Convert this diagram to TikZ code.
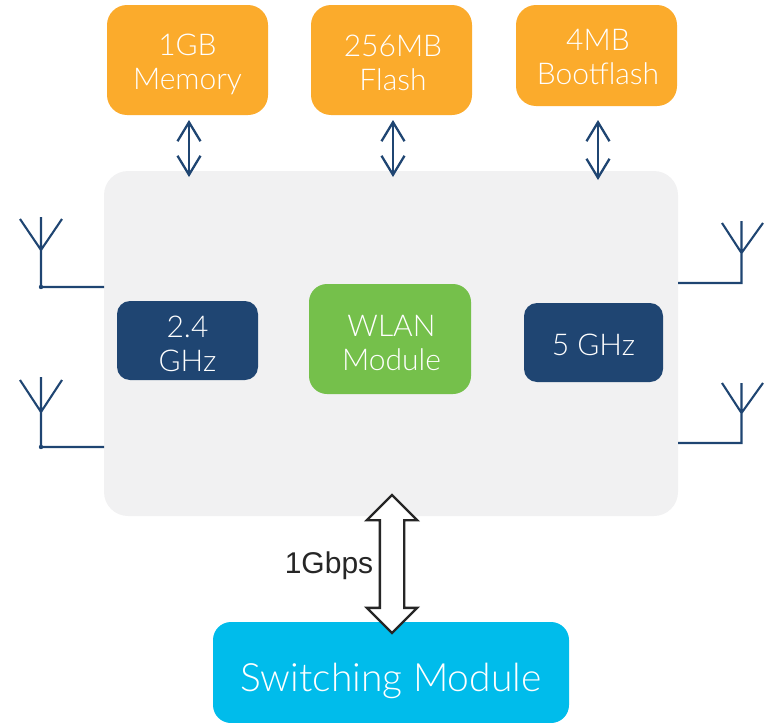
\documentclass[tikz,border=0pt]{standalone}
\usepackage{fontspec}
\setmainfont{Liberation Sans}
\newfontfamily\thinf{Lato Light}
\usetikzlibrary{arrows.meta,shapes.arrows}
\definecolor{orangebox}{HTML}{FBAB2C}
\definecolor{navybox}{HTML}{1F4572}
\definecolor{greenbox}{HTML}{75C04B}
\definecolor{cyanbox}{HTML}{00BCEB}
\definecolor{panel}{HTML}{F1F1F2}
\definecolor{inkdark}{HTML}{262626}
\newcommand\lowtext[3][0pt]{\hspace*{#1}\raisebox{-#2}[0pt][0pt]{\begin{tabular}{@{}c@{}}#3\end{tabular}}}
\tikzset{
  box/.style={rounded corners=#1, inner sep=0pt, align=center, text=white, font=\thinf\fontsize{30}{34}\selectfont, anchor=center},
  box/.default=18pt,
  membox/.style={box=20pt, fill=orangebox},
  radiobox/.style={box=13pt, fill=navybox},
  link/.style={navybox, line width=2.3pt, {Straight Barb[length=19pt,width=23pt]}-{Straight Barb[length=19pt,width=23pt]}},
  antenna/.style={navybox, line width=2.1pt},
  bigarrow/.style={double arrow, double arrow head extend=13pt, minimum width=48pt, minimum height=138pt, inner xsep=0pt, inner ysep=11pt, rotate=90, draw=inkdark, fill=white, line width=2.4pt}
}
\begin{document}
\begin{tikzpicture}[x=1pt,y=-1pt]
\useasboundingbox (0,0) rectangle (769,723);
\node[fill=panel, rounded corners=24pt, minimum width=574pt, minimum height=345pt, inner sep=0pt] (main) at (391,343.5) {};
\node[membox, minimum width=161pt, minimum height=110pt] (mem) at (187.5,60) {\lowtext{12pt}{1GB\\Memory}};
\node[membox, minimum width=161pt, minimum height=110pt] (flash) at (391.5,60) {\lowtext[3pt]{13pt}{256MB\\Flash}};
\node[membox, minimum width=161pt, minimum height=101pt] (boot) at (596.5,55.5) {\lowtext[3pt]{11pt}{4MB\\Bootflash}};
\node[radiobox, minimum width=141pt, minimum height=79pt] (r24) at (187.5,340.5) {\lowtext{13pt}{2.4\\GHz}};
\node[box=18pt, fill=greenbox, minimum width=162pt, minimum height=110pt] (wlan) at (390,339) {\lowtext[3pt]{14pt}{WLAN\\Module}};
\node[radiobox, minimum width=139pt, minimum height=79pt] (r5) at (593.5,342.5) {\lowtext{12pt}{5 GHz}};
\node[box=18pt, fill=cyanbox, minimum width=356pt, minimum height=101pt, font=\thinf\fontsize{39}{44}\selectfont] (sw) at (391,672.5) {\lowtext{16pt}{Switching Module}};
% memory links
\coordinate (m1a) at (189,120); \coordinate (m1b) at (189,177);
\coordinate (m2a) at (393,120); \coordinate (m2b) at (393,177);
\coordinate (m3a) at (598,120); \coordinate (m3b) at (598,180);
\draw[link] (m1a) -- (m1b);
\draw[link] (m2a) -- (m2b);
\draw[link] (m3a) -- (m3b);
% big arrow
\node[bigarrow] (gig) at (392,564) {};
\node[font=\fontsize{30}{33}\selectfont, text=inkdark, inner sep=0pt] (gbps) at (329,566) {1Gbps};
% antennas left
\coordinate (la1) at (41,287); \coordinate (la1t) at (41,217); \coordinate (la1j) at (41,250);
\coordinate (la1l) at (20,219); \coordinate (la1r) at (62,219); \coordinate (la1e) at (104,287);
\draw[antenna] (la1e) -- (la1) -- (la1t) (la1l) -- (la1j) -- (la1r);
\fill[navybox] (la1) circle (2.2pt);
\coordinate (la2) at (41,447); \coordinate (la2t) at (41,377); \coordinate (la2j) at (41,412);
\coordinate (la2l) at (20,380); \coordinate (la2r) at (62,380); \coordinate (la2e) at (104,447);
\draw[antenna] (la2e) -- (la2) -- (la2t) (la2l) -- (la2j) -- (la2r);
\fill[navybox] (la2) circle (2.2pt);
% antennas right
\coordinate (ra1) at (741.5,283); \coordinate (ra1t) at (741.5,221); \coordinate (ra1j) at (741.5,253);
\coordinate (ra1l) at (722,223); \coordinate (ra1r) at (763,223); \coordinate (ra1e) at (678,283);
\draw[antenna] (ra1e) -- (ra1) -- (ra1t) (ra1l) -- (ra1j) -- (ra1r);
\coordinate (ra2) at (741.5,443); \coordinate (ra2t) at (741.5,383); \coordinate (ra2j) at (741.5,413);
\coordinate (ra2l) at (722,383); \coordinate (ra2r) at (763,383); \coordinate (ra2e) at (678,443);
\draw[antenna] (ra2e) -- (ra2) -- (ra2t) (ra2l) -- (ra2j) -- (ra2r);
\end{tikzpicture}
\end{document}
